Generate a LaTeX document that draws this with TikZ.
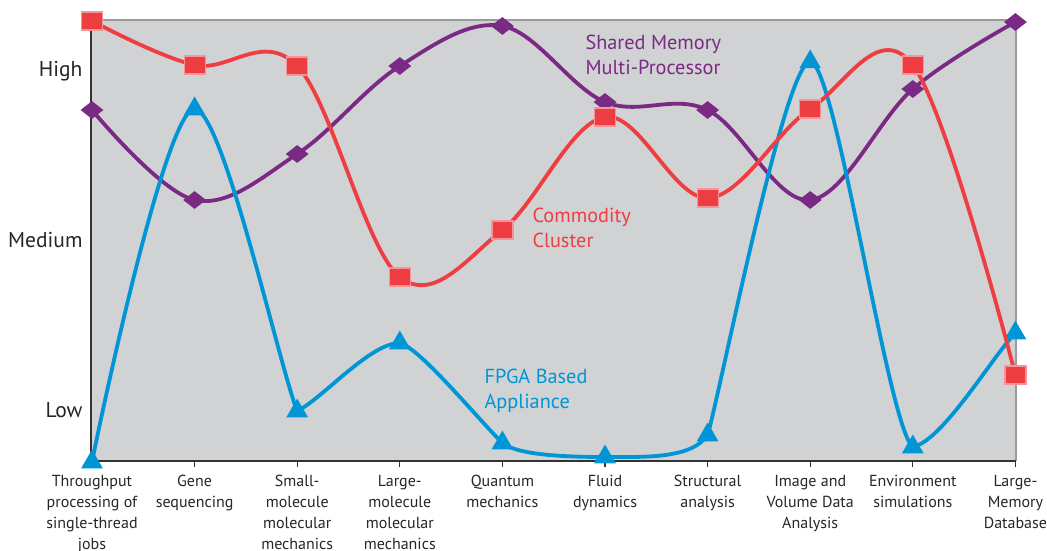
\documentclass[tikz,border=0pt]{standalone}
\usepackage{fontspec}
\setmainfont{PT Sans}
\usetikzlibrary{shapes.geometric}
\definecolor{plotgrey}{HTML}{D1D2D4}
\definecolor{framegrey}{HTML}{9A9B9D}
\definecolor{ccred}{HTML}{EF3E42}
\definecolor{smppurple}{HTML}{7A2A84}
\definecolor{fpgablue}{HTML}{0096D6}
\tikzset{
  ccline/.style={ccred, line width=3.8pt},
  smpline/.style={smppurple, line width=3.8pt},
  fpgaline/.style={fpgablue, line width=3.8pt, line join=round},
  ccmark/.style={rectangle, fill=ccred, draw=ccred!55!white, line width=1.2pt,
    minimum width=21pt, minimum height=18pt, inner sep=0pt},
  smpmark/.style={diamond, fill=smppurple, minimum width=23pt, minimum height=18pt, inner sep=0pt},
  fpgamark/.style={regular polygon, regular polygon sides=3, fill=fpgablue, minimum size=25pt, inner sep=0pt},
  catlabel/.style={anchor=north, align=center, font=\fontsize{16}{21}\selectfont, text=black!85},
  levellabel/.style={anchor=base east, font=\fontsize{21.5}{24}\selectfont, text=black!85},
  serieslabel/.style={anchor=north west, align=left, font=\fontsize{20.3}{24.5}\selectfont},
}

\begin{document}
\begin{tikzpicture}[x=1pt, y=-1pt]
\useasboundingbox (0,0) rectangle (1047,551);

%plot area
\fill[plotgrey] (91,20) rectangle (1016,461);
\draw[framegrey, line width=1.5pt] (91,20) -- (1016,20) -- (1016,461);
\draw[black!80, line width=1.6pt] (91,20) -- (91,461) -- (1016,461);
\foreach \i in {1,...,10}
  \draw[black!80, line width=1.2pt] ({92+(\i-1)*102.6},461) -- ({92+(\i-1)*102.6},467);

%levels
\node[levellabel] (high) at (86,77) {High};
\node[levellabel] (medium) at (86,247) {Medium};
\node[levellabel] (low) at (86,417) {Low};

%categories
\foreach \i/\txt in {1/{Throughput\\processing of\\single-thread\\jobs},
                     2/{Gene\\sequencing},
                     3/{Small-\\molecule\\molecular\\mechanics},
                     4/{Large-\\molecule\\molecular\\mechanics},
                     5/{Quantum\\mechanics},
                     6/{Fluid\\dynamics},
                     7/{Structural\\analysis},
                     8/{Image and\\Volume Data\\Analysis},
                     9/{Environment\\simulations},
                     10/{Large-\\Memory\\Database}}
  \node[catlabel] (cat\i) at ({92+(\i-1)*102.6},472) {\txt};

%data points
\foreach \i/\y in {1/110, 2/200, 3/154, 4/66, 5/26, 6/102, 7/110, 8/200, 9/89, 10/22}
  \coordinate (smp\i) at ({92+(\i-1)*102.6},\y);
\foreach \i/\y in {1/462, 2/109, 3/411, 4/343, 5/443, 6/457, 7/435, 8/62, 9/447, 10/333}
  \coordinate (fpga\i) at ({92+(\i-1)*102.6},\y);
\foreach \i/\y in {1/21, 2/65, 3/66, 4/277, 5/230, 6/117, 7/198, 8/109, 9/65, 10/375}
  \coordinate (cc\i) at ({92+(\i-1)*102.6},\y);

%shared memory
\draw[smpline] plot[smooth, tension=0.6] coordinates {(smp1) (smp2) (smp3) (smp4) (smp5) (smp6) (smp7) (smp8) (smp9) (smp10)};
\foreach \i in {1,...,10}
  \node[smpmark] (smpm\i) at (smp\i) {};

%fpga, drawn segment by segment so the troughs do not dip below the points
\draw[fpgaline] (fpga1) .. controls +(12,-60) and +(-28,0) .. (fpga2)
  .. controls +(28,0) and +(-18,-45) .. (fpga3)
  .. controls +(25,-12) and +(-30,0) .. (fpga4)
  .. controls +(20,5) and +(-28,-28) .. (fpga5)
  .. controls +(15,12) and +(-40,0) .. (fpga6)
  .. controls +(40,0) and +(-16,24) .. (fpga7)
  .. controls +(12,-40) and +(-25,-2) .. (fpga8)
  .. controls +(25,-2) and +(-25,-20) .. (fpga9)
  .. controls +(30,-6) and +(-22,22) .. (fpga10);
\foreach \i in {1,...,10}
  \node[fpgamark] (fpgam\i) at (fpga\i) {};

%commodity cluster
\draw[ccline] plot[smooth, tension=0.6] coordinates {(cc1) (cc2) (cc3) (cc4) (cc5) (cc6) (cc7) (cc8) (cc9) (cc10)};
\foreach \i in {1,...,10}
  \node[ccmark] (ccm\i) at (cc\i) {};

%series names
\node[serieslabel, text=smppurple] (smpname) at (582,32) {Shared Memory\\Multi-Processor};
\node[serieslabel, text=ccred] (ccname) at (529,205) {Commodity\\Cluster};
\node[serieslabel, text=fpgablue] (fpganame) at (481,366) {FPGA Based\\Appliance};

\end{tikzpicture}
\end{document}
